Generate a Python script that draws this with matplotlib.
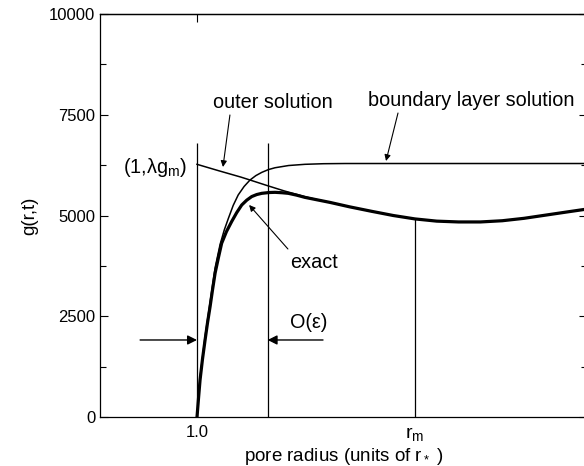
import matplotlib
matplotlib.use('Agg')
import matplotlib.pyplot as plt
from matplotlib.ticker import MultipleLocator

plt.rcParams['font.family'] = ['Liberation Sans', 'DejaVu Sans']
plt.rcParams['mathtext.fontset'] = 'custom'
plt.rcParams['mathtext.rm'] = 'Liberation Sans'
plt.rcParams['mathtext.it'] = 'Liberation Sans'
plt.rcParams['mathtext.default'] = 'rm'

# pore radius (units of r*), r_m taken as 2.0
r_exact = [1.000, 1.007, 1.014, 1.025, 1.037, 1.048, 1.060, 1.071, 1.083, 1.098,
           1.113, 1.135, 1.159, 1.182, 1.205, 1.228, 1.251, 1.274, 1.297, 1.330,
           1.358, 1.390, 1.419, 1.457, 1.495, 1.550, 1.610, 1.700, 1.800, 1.900,
           2.000, 2.100, 2.200, 2.300, 2.400, 2.500, 2.600, 2.700, 2.789]
g_exact = [0, 470, 920, 1430, 1910, 2330, 2740, 3150, 3570, 3950,
           4310, 4600, 4850, 5070, 5260, 5380, 5470, 5520, 5550, 5570,
           5575, 5565, 5550, 5505, 5450, 5390, 5325, 5215, 5105, 5000,
           4915, 4860, 4840, 4840, 4870, 4930, 5010, 5090, 5160]

r_outer = [1.000, 1.100, 1.200, 1.243, 1.324, 1.400, 1.495, 1.550, 1.610, 1.700, 1.800]
g_outer = [6270, 6110, 5955, 5881, 5739, 5610, 5467, 5395, 5325, 5215, 5105]

r_bl = [1.000, 1.014, 1.037, 1.060, 1.083, 1.106, 1.125, 1.144, 1.166, 1.189,
        1.216, 1.243, 1.270, 1.297, 1.328, 1.358, 1.420, 1.495, 1.580, 1.680, 2.789]
g_bl = [0, 980, 2000, 2850, 3700, 4285, 4640, 4930, 5250, 5510,
        5720, 5880, 5990, 6070, 6140, 6185, 6240, 6270, 6285, 6290, 6290]

# vertical guide lines: r = 1, boundary layer edge, r_m
guide_r = [1.0, 1.324, 2.0]
guide_top = [6800, 6800, 4915]

fig = plt.figure(figsize=(5.84, 4.66), dpi=100)
ax = fig.add_axes([100/584, 49/466, 487/584, 403/466])

ax.vlines(guide_r, 0, guide_top, color='black', lw=0.9)
ax.plot(r_outer, g_outer, color='black', lw=1.1)
ax.plot(r_bl, g_bl, color='black', lw=1.1)
ax.plot(r_exact, g_exact, color='black', lw=2.3)

ax.set_xlim(0.555, 2.789)
ax.set_ylim(0, 10000)
ax.yaxis.set_major_locator(MultipleLocator(2500))
ax.yaxis.set_minor_locator(MultipleLocator(1250))
ax.set_xticks([1.0, 2.0])
ax.tick_params(which='both', direction='in', right=True, labelsize=12, width=0.8)
ax.tick_params(which='major', length=6)
ax.tick_params(which='minor', length=4)
ax.tick_params(axis='x', length=0, pad=6)
ax.set_xticklabels(['1.0', 'r$_\\mathrm{m}$'])
ax.get_xticklabels()[1].set_fontsize(14)
for s in ax.spines.values():
    s.set_linewidth(0.9)

top = ax.secondary_xaxis('top')
top.set_xticks([1.0])
top.tick_params(direction='in', length=6, width=0.8, labeltop=False)
top.spines['top'].set_linewidth(0.9)

ax.set_xlabel('pore radius (units of r$_*$ )', fontsize=13.5, labelpad=2)
ax.set_ylabel('g(r,t)', fontsize=13.5, labelpad=8)

fs = 14.3
arr = dict(arrowstyle='-|>', color='black', lw=0.8, mutation_scale=9, shrinkA=0, shrinkB=0)
ax.text(1.073, 7816, 'outer solution', fontsize=fs, ha='left', va='center')
ax.annotate('', xy=(1.119, 6203), xytext=(1.151, 7494), arrowprops=arr)
ax.text(1.784, 7866, 'boundary layer solution', fontsize=fs, ha='left', va='center')
ax.annotate('', xy=(1.867, 6352), xytext=(1.922, 7543), arrowprops=arr)
ax.text(0.661, 6203, '(1,λg$_\\mathrm{m}$)', fontsize=fs, ha='left', va='center')
ax.text(1.427, 3846, 'exact', fontsize=fs, ha='left', va='center')
ax.annotate('', xy=(1.239, 5261), xytext=(1.417, 4169), arrowprops=arr)
ax.text(1.427, 2333, 'O(ε)', fontsize=fs, ha='left', va='center')

arr2 = dict(arrowstyle='-|>', color='black', lw=1.0, mutation_scale=14, shrinkA=0, shrinkB=0)
ax.annotate('', xy=(1.0, 1911), xytext=(0.739, 1911), arrowprops=arr2)
ax.annotate('', xy=(1.324, 1911), xytext=(1.578, 1911), arrowprops=arr2)

fig.savefig('out.png', dpi=100)
